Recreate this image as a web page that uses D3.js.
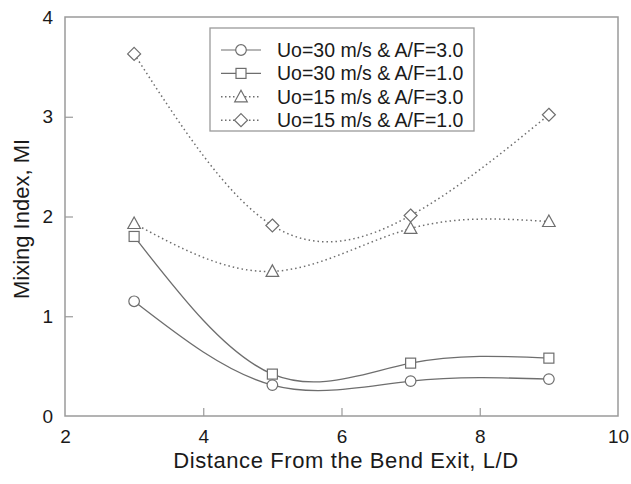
<!DOCTYPE html>
<html>
<head>
<meta charset="utf-8">
<script src="https://cdn.jsdelivr.net/npm/d3@7"></script>
<style>
  html, body { margin: 0; padding: 0; background: #fff; }
  svg { display: block; }
  text { font-family: "Liberation Sans", Arial, sans-serif; fill: #1a1a1a; }
</style>
</head>
<body>
<svg id="chart" width="631" height="484"></svg>
<script>
// Measurement stations along the duct (L/D)
const distances = [3, 5, 7, 9];

// Mixing index for each inlet condition
const seriesNames = [
  "Uo=30 m/s & A/F=3.0",
  "Uo=30 m/s & A/F=1.0",
  "Uo=15 m/s & A/F=3.0",
  "Uo=15 m/s & A/F=1.0"
];
const mi30af3 = [1.15, 0.31, 0.35, 0.37];
const mi30af1 = [1.80, 0.42, 0.53, 0.58];
const mi15af3 = [1.93, 1.45, 1.88, 1.95];
const mi15af1 = [3.63, 1.91, 2.01, 3.02];

const xTicks = [2, 4, 6, 8, 10];
const yTicks = [0, 1, 2, 3, 4];

const symbols = ["circle", "square", "triangle", "diamond"];
const dotted = [false, false, true, true];
const values = [mi30af3, mi30af1, mi15af3, mi15af1];

const svg = d3.select("#chart");
const plotL = 65, plotR = 618, plotT = 17, plotB = 416;

const x = d3.scaleLinear().domain([2, 10]).range([plotL, plotR]);
const y = d3.scaleLinear().domain([0, 4]).range([plotB, plotT]);

const frame = "#9a9a9a";
const ink = "#6e6e6e";

// plot frame
svg.append("rect")
  .attr("x", plotL).attr("y", plotT)
  .attr("width", plotR - plotL).attr("height", plotB - plotT)
  .attr("fill", "none").attr("stroke", frame).attr("stroke-width", 1.5);

// axes with inward ticks
const xAxis = d3.axisBottom(x).tickValues(xTicks).tickFormat(d3.format("d")).tickSize(-8).tickPadding(14);
const gx = svg.append("g").attr("transform", `translate(0,${plotB})`).call(xAxis);
const yAxis = d3.axisLeft(y).tickValues(yTicks).tickFormat(d3.format("d")).tickSize(-8).tickPadding(12);
const gy = svg.append("g").attr("transform", `translate(${plotL},0)`).call(yAxis);

[gx, gy].forEach(g => {
  g.select(".domain").remove();
  g.selectAll(".tick line").attr("stroke", frame).attr("stroke-width", 1.2);
  g.selectAll(".tick text").attr("font-size", 19).style("font-family", "Liberation Sans, Arial, sans-serif").attr("fill", "#1a1a1a");
});
// end ticks coincide with the frame
gx.selectAll(".tick").filter(d => d === 2 || d === 10).select("line").remove();
gy.selectAll(".tick").filter(d => d === 0 || d === 4).select("line").remove();

// axis titles
svg.append("text")
  .attr("x", 346).attr("y", 468)
  .attr("text-anchor", "middle").attr("font-size", 22)
  .attr("letter-spacing", 0.6)
  .text("Distance From the Bend Exit, L/D");
svg.append("text")
  .attr("transform", `translate(29,219) rotate(-90)`)
  .attr("text-anchor", "middle").attr("font-size", 22)
  .text("Mixing Index, MI");

function marker(sel, kind) {
  if (kind === "circle") {
    sel.append("circle").attr("r", 5.3);
  } else if (kind === "square") {
    sel.append("rect").attr("x", -5).attr("y", -5).attr("width", 10).attr("height", 10);
  } else if (kind === "triangle") {
    sel.append("path").attr("d", "M0,-6.5L6.3,5L-6.3,5Z");
  } else {
    sel.append("path").attr("d", "M0,-6.5L6.5,0L0,6.5L-6.5,0Z");
  }
  sel.selectAll("*").attr("fill", "#fff").attr("stroke", ink).attr("stroke-width", 1.2);
}

const line = d3.line()
  .x(d => x(d[0]))
  .y(d => y(d[1]))
  .curve(d3.curveNatural);

values.forEach((vals, i) => {
  const pts = distances.map((d, j) => [d, vals[j]]);
  svg.append("path")
    .attr("d", line(pts))
    .attr("fill", "none")
    .attr("stroke", ink)
    .attr("stroke-width", dotted[i] ? 1.5 : 1.3)
    .attr("stroke-dasharray", dotted[i] ? "1.5,3" : null);
});

values.forEach((vals, i) => {
  distances.forEach((d, j) => {
    const g = svg.append("g").attr("transform", `translate(${x(d)},${y(vals[j])})`);
    marker(g, symbols[i]);
  });
});

// legend
const lg = svg.append("g");
lg.append("rect")
  .attr("x", 210).attr("y", 28).attr("width", 264).attr("height", 103)
  .attr("fill", "#fff").attr("stroke", frame).attr("stroke-width", 1.3);
seriesNames.forEach((name, i) => {
  const cy = 50 + i * 23.4;
  lg.append("line")
    .attr("x1", 221).attr("x2", 261).attr("y1", cy).attr("y2", cy)
    .attr("stroke", ink).attr("stroke-width", dotted[i] ? 1.5 : 1.2)
    .attr("stroke-dasharray", dotted[i] ? "1.5,2.5" : null);
  const g = lg.append("g").attr("transform", `translate(241,${cy})`);
  marker(g, symbols[i]);
  lg.append("text")
    .attr("x", 277).attr("y", cy + 7)
    .attr("font-size", 19.5)
    .text(name);
});
</script>
</body>
</html>
